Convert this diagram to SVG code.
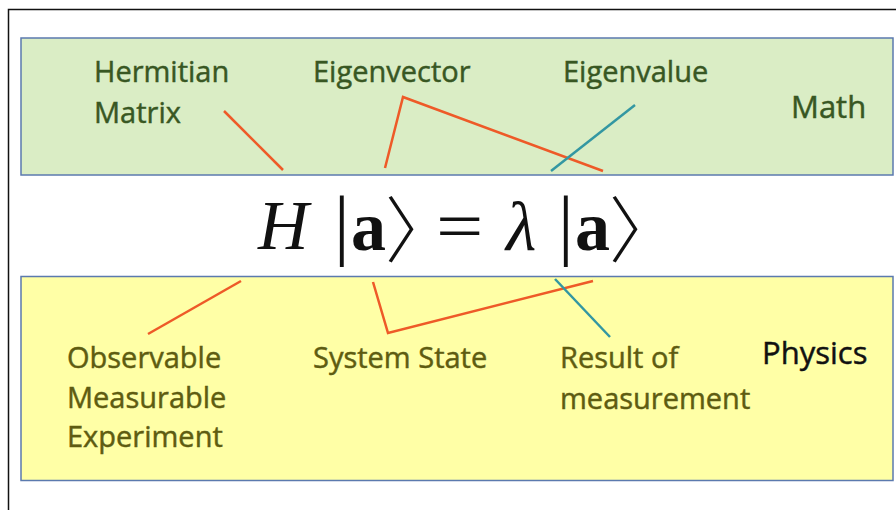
<svg xmlns="http://www.w3.org/2000/svg" width="896" height="510" viewBox="0 0 896 510">
<style>
.lbl{font-family:"Open Sans","Liberation Sans",sans-serif;font-size:29px;stroke-width:0.45}
.m{fill:#385723;stroke:#385723}
.p{fill:#5E5C11;stroke:#5E5C11}
.big{font-size:31px}
.eq{font-family:"Liberation Serif","DejaVu Serif",serif;font-size:70px;fill:#111}
.br{font-family:"Noto Sans CJK SC","DejaVu Sans",sans-serif;font-weight:300;font-size:72px;fill:#111;font-feature-settings:"halt"}
.bar{font-size:78px}
.or{stroke:#EE5A28;stroke-width:2.5;fill:none}
.tl{stroke:#3397A2;stroke-width:2.5;fill:none}
</style>
<rect width="896" height="510" fill="#fff"/>
<path d="M8.5 510 V9.5 H896" stroke="#111" stroke-width="1.5" fill="none"/>
<g id="math">
<rect x="21" y="38" width="872" height="137" fill="#DAEDC5" stroke="#5B7AAE" stroke-width="1.5"/>
<text class="lbl m big" x="791" y="118">Math</text>
</g>
<g id="physics">
<rect x="21" y="276.5" width="872" height="204" fill="#FFFFA6" stroke="#5B7AAE" stroke-width="1.5"/>
<text class="lbl big" x="762" y="364" fill="#111" stroke="#111">Physics</text>
</g>
<g id="hermitian"><text class="lbl m" x="94" y="82">Hermitian</text><text class="lbl m" x="94" y="123">Matrix</text></g>
<g id="eigenvector"><text class="lbl m" x="313" y="82">Eigenvector</text></g>
<g id="eigenvalue"><text class="lbl m" x="563" y="82">Eigenvalue</text></g>
<g id="observable"><text class="lbl p" x="67" y="368">Observable</text><text class="lbl p" x="67" y="408">Measurable</text><text class="lbl p" x="67" y="447">Experiment</text></g>
<g id="systemstate"><text class="lbl p" x="313" y="368">System State</text></g>
<g id="result"><text class="lbl p" x="560" y="368">Result of</text><text class="lbl p" x="560" y="409">measurement</text></g>
<g id="equation">
<text class="eq" x="258" y="249" font-style="italic">H</text>
<text class="eq bar" x="334" y="250">|</text>
<text class="eq" x="351" y="250" font-weight="bold">a</text>
<text class="br" x="385" y="256">〉</text>
<text class="eq" x="0" y="0" transform="translate(436 250) scale(1.2 1)">=</text>
<text class="eq" x="506" y="250" font-style="italic">λ</text>
<text class="eq bar" x="558" y="250">|</text>
<text class="eq" x="575" y="250" font-weight="bold">a</text>
<text class="br" x="609" y="256">〉</text>
</g>
<g id="connectors">
<line class="or" x1="224" y1="111" x2="283" y2="170"/>
<polyline class="or" points="385,168 403,97 603,171"/>
<line class="tl" x1="635" y1="105" x2="551" y2="171"/>
<line class="or" x1="148" y1="334" x2="241" y2="281"/>
<polyline class="or" points="373,282 388,333 593,281"/>
<line class="tl" x1="555" y1="279" x2="610" y2="337"/>
</g>
</svg>
